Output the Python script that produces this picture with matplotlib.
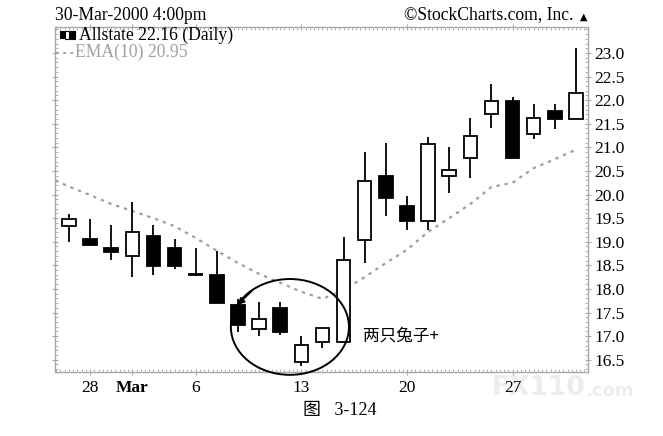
"""
Allstate daily candlestick chart (StockCharts style), Feb 25 - Mar 30 2000,
with EMA(10) overlay and a circled "two rabbits" pattern.
"""

import matplotlib
matplotlib.use("Agg")

import matplotlib.pyplot as plt
import numpy as np
from matplotlib.patches import Ellipse, Rectangle
from matplotlib.ticker import MultipleLocator, FixedLocator

# ── DATA ──
dates = ["Feb 25", "Feb 28", "Feb 29", "Mar 1", "Mar 2", "Mar 3",
         "Mar 6", "Mar 7", "Mar 8", "Mar 9", "Mar 10",
         "Mar 13", "Mar 14", "Mar 15", "Mar 16", "Mar 17",
         "Mar 20", "Mar 21", "Mar 22", "Mar 23", "Mar 24",
         "Mar 27", "Mar 28", "Mar 29", "Mar 30"]
opens  = [19.34, 19.06, 18.87, 18.69, 19.12, 18.86, 18.31, 18.30, 17.66, 17.16, 17.60,
          16.45, 16.87, 16.88, 19.04, 20.40, 19.76, 19.45, 20.39, 20.78, 21.71,
          21.98, 21.28, 21.78, 21.60]
highs  = [19.58, 19.48, 19.36, 19.84, 19.36, 19.06, 18.86, 18.81, 17.79, 17.72, 17.72,
          17.01, 17.17, 19.11, 20.90, 21.09, 19.96, 21.21, 21.01, 21.63, 22.34,
          22.07, 21.91, 21.91, 23.10]
lows   = [18.99, 18.93, 18.61, 18.26, 18.30, 18.42, 18.28, 17.71, 17.09, 17.00, 17.03,
          16.37, 16.74, 16.88, 18.54, 19.55, 19.25, 19.25, 20.03, 20.35, 21.40,
          20.77, 21.18, 21.39, 21.60]
closes = [19.48, 18.93, 18.78, 19.21, 18.49, 18.49, 18.30, 17.71, 17.23, 17.37, 17.09,
          16.81, 17.17, 18.61, 20.29, 19.93, 19.45, 21.07, 20.52, 21.23, 21.98,
          20.77, 21.62, 21.60, 22.16]
# EMA(10), first value is the session before the chart (Feb 24)
ema10 = [20.37, 20.17, 19.99, 19.80, 19.65, 19.50, 19.33, 19.08, 18.81, 18.55, 18.32,
         18.13, 17.94, 17.79, 17.98, 18.25, 18.55, 18.83, 19.21, 19.50, 19.80,
         20.16, 20.25, 20.56, 20.75, 20.95]

x_tick_idx = [1, 3, 6, 11, 16, 21]
x_tick_labels = ["28", "Mar", "6", "13", "20", "27"]
y_ticks = [16.5, 17.0, 17.5, 18.0, 18.5, 19.0, 19.5, 20.0, 20.5, 21.0, 21.5, 22.0, 22.5, 23.0]

SERIF = "Liberation Serif"
FRAME = "#a8a8a8"
EMA_COLOR = "#a0a0a0"
HEAD_SIZE = 12.7

W, H = 663, 436
fig = plt.figure(figsize=(W / 100, H / 100), dpi=100, facecolor="white")
ax = fig.add_axes([55 / W, 1 - 372 / H, (588 - 55) / W, (372 - 27) / H])

x = np.arange(len(dates))
o = np.array(opens)
c = np.array(closes)
up = c >= o

# wicks
ax.vlines(x, lows, highs, color="black", linewidth=1.3, zorder=2)
# bodies
ax.bar(x, np.maximum(np.abs(c - o), 0.012), bottom=np.minimum(o, c), width=0.64,
       color=np.where(up, "white", "black"), edgecolor="black", linewidth=1.3, zorder=3)

# EMA(10)
ax.plot(np.arange(-1, len(dates)), ema10, color=EMA_COLOR, linestyle=(0, (1.5, 2.2)),
        linewidth=1.6, zorder=1)

ax.set_xlim(-0.66, 24.57)
ax.set_ylim(16.24, 23.55)

# ── axes styling ──
for side in ["left", "right", "top", "bottom"]:
    ax.spines[side].set_color(FRAME)
    ax.spines[side].set_linewidth(1.0)

ax.yaxis.tick_right()
ax.yaxis.set_ticks_position("both")
ax.xaxis.set_ticks_position("both")
ax.set_yticks(y_ticks)
ax.set_yticklabels([f"{v:.1f}" for v in y_ticks], fontfamily=SERIF, fontsize=12.5)
ax.yaxis.set_minor_locator(MultipleLocator(0.1))
ax.xaxis.set_major_locator(FixedLocator(x_tick_idx))
ax.set_xticklabels(x_tick_labels, fontfamily=SERIF, fontsize=12.5)
ax.get_xticklabels()[1].set_fontweight("bold")
ax.xaxis.set_minor_locator(MultipleLocator(0.2))
ax.tick_params(which="major", direction="inout", length=5, color=FRAME, width=0.8,
               labelcolor="black", pad=2)
ax.tick_params(which="minor", direction="in", length=2, color=FRAME, width=0.6)
ax.tick_params(axis="x", which="major", pad=3)

# ── circled pattern & annotation ──
ax.add_patch(Ellipse((10.46, 17.195), 5.59, 2.03, facecolor="none", edgecolor="black",
                     linewidth=1.4, clip_on=False, zorder=4))
ax.annotate("", xy=(7.98, 17.66), xytext=(8.66, 17.96),
            arrowprops=dict(arrowstyle="-|>", color="black", lw=1.2, mutation_scale=10,
                            shrinkA=0, shrinkB=0), zorder=5)
ax.text(13.9, 17.0, "两只兔子+", fontfamily=["Noto Sans CJK SC"], fontsize=12,
        ha="left", va="center", color="black")

# ── header texts ──
fig.text(55 / W, 1 - 16 / H, "30-Mar-2000 4:00pm", fontfamily=SERIF, fontsize=HEAD_SIZE,
         ha="left", va="center")
fig.text(573 / W, 1 - 15 / H, "©StockCharts.com, Inc.", fontfamily=SERIF, fontsize=HEAD_SIZE,
         ha="right", va="center")
fig.text(584 / W, 1 - 17 / H, "▲", fontfamily="DejaVu Sans", fontsize=7,
         ha="center", va="center")

# legend: small candle icon + titles
icon = [(60, 31, 4, 7, "black"), (65, 31, 4, 8, "white"), (70, 31, 5, 8, "black")]
for px, py, pw, ph, col in icon:
    fig.patches.append(Rectangle((px / W, 1 - (py + ph) / H), pw / W, ph / H,
                                 transform=fig.transFigure, facecolor=col,
                                 edgecolor="black", linewidth=0.8))
fig.text(79 / W, 1 - 35 / H, "Allstate 22.16 (Daily)", fontfamily=SERIF, fontsize=HEAD_SIZE,
         ha="left", va="center")
fig.add_artist(plt.Line2D([56 / W, 73 / W], [1 - 53 / H, 1 - 53 / H], transform=fig.transFigure,
                          color=EMA_COLOR, linestyle=(0, (1.5, 2.2)), linewidth=1.4))
fig.text(75 / W, 1 - 52 / H, "EMA(10) 20.95", fontfamily=SERIF, fontsize=HEAD_SIZE,
         ha="left", va="center", color=EMA_COLOR)

# watermark (drawn beneath the axes so the tick label stays readable)
fig.text(492 / W, 1 - 388 / H, "FX110", fontfamily="DejaVu Sans", fontweight="bold",
         fontsize=19, color="#ededed", ha="left", va="center", zorder=-1)
fig.text(585 / W, 1 - 391 / H, ".com", fontfamily="DejaVu Sans", fontweight="bold",
         fontsize=13, color="#ededed", ha="left", va="center", zorder=-1)

# caption
fig.text(340 / W, 1 - 410 / H, "图   3-124", fontfamily=[SERIF, "Noto Sans CJK SC"],
         fontsize=13, ha="center", va="center")

fig.savefig("out.png", dpi=100, facecolor="white")
plt.close(fig)
